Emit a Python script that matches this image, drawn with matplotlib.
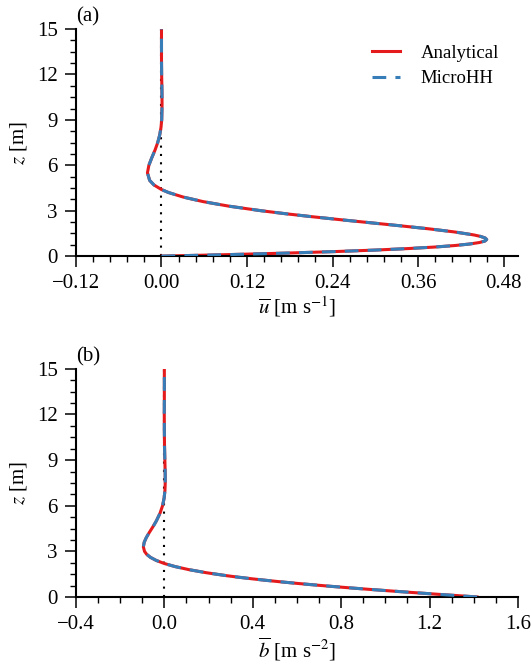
import matplotlib
matplotlib.use('Agg')
import matplotlib.pyplot as plt
from matplotlib.ticker import MultipleLocator

plt.rcParams['font.family'] = ['Liberation Serif', 'DejaVu Serif']
plt.rcParams['mathtext.fontset'] = 'stix'
plt.rcParams['font.size'] = 15

# heights [m]
z = [0.0, 0.1, 0.2, 0.3, 0.4, 0.5, 0.6, 0.7, 0.8, 0.9, 1.0, 1.1, 1.2, 1.3, 1.4,
     1.6, 1.8, 2.0, 2.2, 2.4, 2.6, 2.8, 3.0, 3.3, 3.6, 3.9, 4.2, 4.4, 4.7, 5.0,
     5.5, 6.0, 6.5, 7.0, 7.5, 8.0, 8.5, 9.0, 10.0, 11.0, 12.0, 13.0, 14.0, 15.0]

# along-slope velocity [m s-1]
u_analytical = [0.0, 0.0939, 0.1747, 0.2429, 0.2997, 0.3461, 0.3831, 0.4114,
                0.4321, 0.4460, 0.4538, 0.4561, 0.4538, 0.4476, 0.4381,
                0.4105, 0.3755, 0.3357, 0.2940, 0.2522, 0.2118, 0.1741, 0.1396,
                0.0946, 0.0584, 0.0305, 0.0099, -0.0001, -0.0105, -0.0166,
                -0.0197, -0.0177, -0.0136, -0.0091, -0.0053, -0.0025, -0.0007,
                0.0003, 0.0008, 0.0006, 0.0002, 0.0, 0.0, 0.0]
u_microhh = list(u_analytical)

# buoyancy [m s-2]
b_analytical = [1.415, 1.3142, 1.2142, 1.1159, 1.0203, 0.9276, 0.8383, 0.7532,
                0.6722, 0.5955, 0.5233, 0.4561, 0.3932, 0.3349, 0.2813,
                0.1875, 0.1100, 0.0481, -0.0002, -0.0364, -0.0624, -0.0797,
                -0.0898, -0.0949, -0.0910, -0.0818, -0.0698, -0.0611, -0.0481,
                -0.0362, -0.0197, -0.0081, -0.0010, 0.0027, 0.0040, 0.0039,
                0.0032, 0.0023, 0.0007, 0.0, -0.0003, 0.0, 0.0, 0.0]
b_microhh = list(b_analytical)

red = '#e41a1c'
blue = '#377eb8'

fig = plt.figure(figsize=(5.31, 6.67), dpi=100)
ax1 = fig.add_axes([0.143, 0.616, 0.8325, 0.3405])
ax2 = fig.add_axes([0.143, 0.105, 0.8325, 0.342])


def style(ax):
    for s in ['top', 'right']:
        ax.spines[s].set_visible(False)
    for s in ['left', 'bottom']:
        ax.spines[s].set_linewidth(1.5)
    ax.tick_params(which='major', direction='out', length=8, width=1.1, pad=5)
    ax.tick_params(which='minor', direction='out', length=4.5, width=1.0)
    ax.set_ylim(0, 15)
    ax.yaxis.set_major_locator(MultipleLocator(3))
    ax.yaxis.set_minor_locator(MultipleLocator(0.75))
    ax.set_ylabel(r'$z$ [m]', labelpad=6)


for ax, x_an, x_mh in [(ax1, u_analytical, u_microhh), (ax2, b_analytical, b_microhh)]:
    ax.axvline(0, color='k', ls=(0, (1, 3)), lw=1.5, zorder=1)
    ax.plot(x_an, z, color=red, lw=2.2, label='Analytical', zorder=2)
    ax.plot(x_mh, z, color=blue, lw=2.2, ls=(0, (4.5, 3)), label='MicroHH', zorder=3)
    style(ax)

ax1.set_xlim(-0.12, 0.50)
ax1.set_xticks([-0.12, 0.0, 0.12, 0.24, 0.36, 0.48])
ax1.set_xticklabels(['\u22120.12', '0.00', '0.12', '0.24', '0.36', '0.48'])
ax1.xaxis.set_minor_locator(MultipleLocator(0.024))
ax1.set_xlabel(r'$\overline{u}$ [m s$^{-1}$]', labelpad=1)

ax2.set_xlim(-0.4, 1.6)
ax2.set_xticks([-0.4, 0.0, 0.4, 0.8, 1.2, 1.6])
ax2.set_xticklabels(['\u22120.4', '0.0', '0.4', '0.8', '1.2', '1.6'])
ax2.xaxis.set_minor_locator(MultipleLocator(0.1))
ax2.set_xlabel(r'$\overline{b}$ [m s$^{-2}$]', labelpad=1)

ax1.legend(loc='upper right', bbox_to_anchor=(0.995, 1.005), frameon=False,
           handlelength=1.5, handletextpad=1.1, labelspacing=0.45, fontsize=13.5)

ax1.text(0.0, 1.01, '(a)', transform=ax1.transAxes, ha='left', va='bottom')
ax2.text(0.0, 1.01, '(b)', transform=ax2.transAxes, ha='left', va='bottom')

fig.savefig('out.png', dpi=100)
